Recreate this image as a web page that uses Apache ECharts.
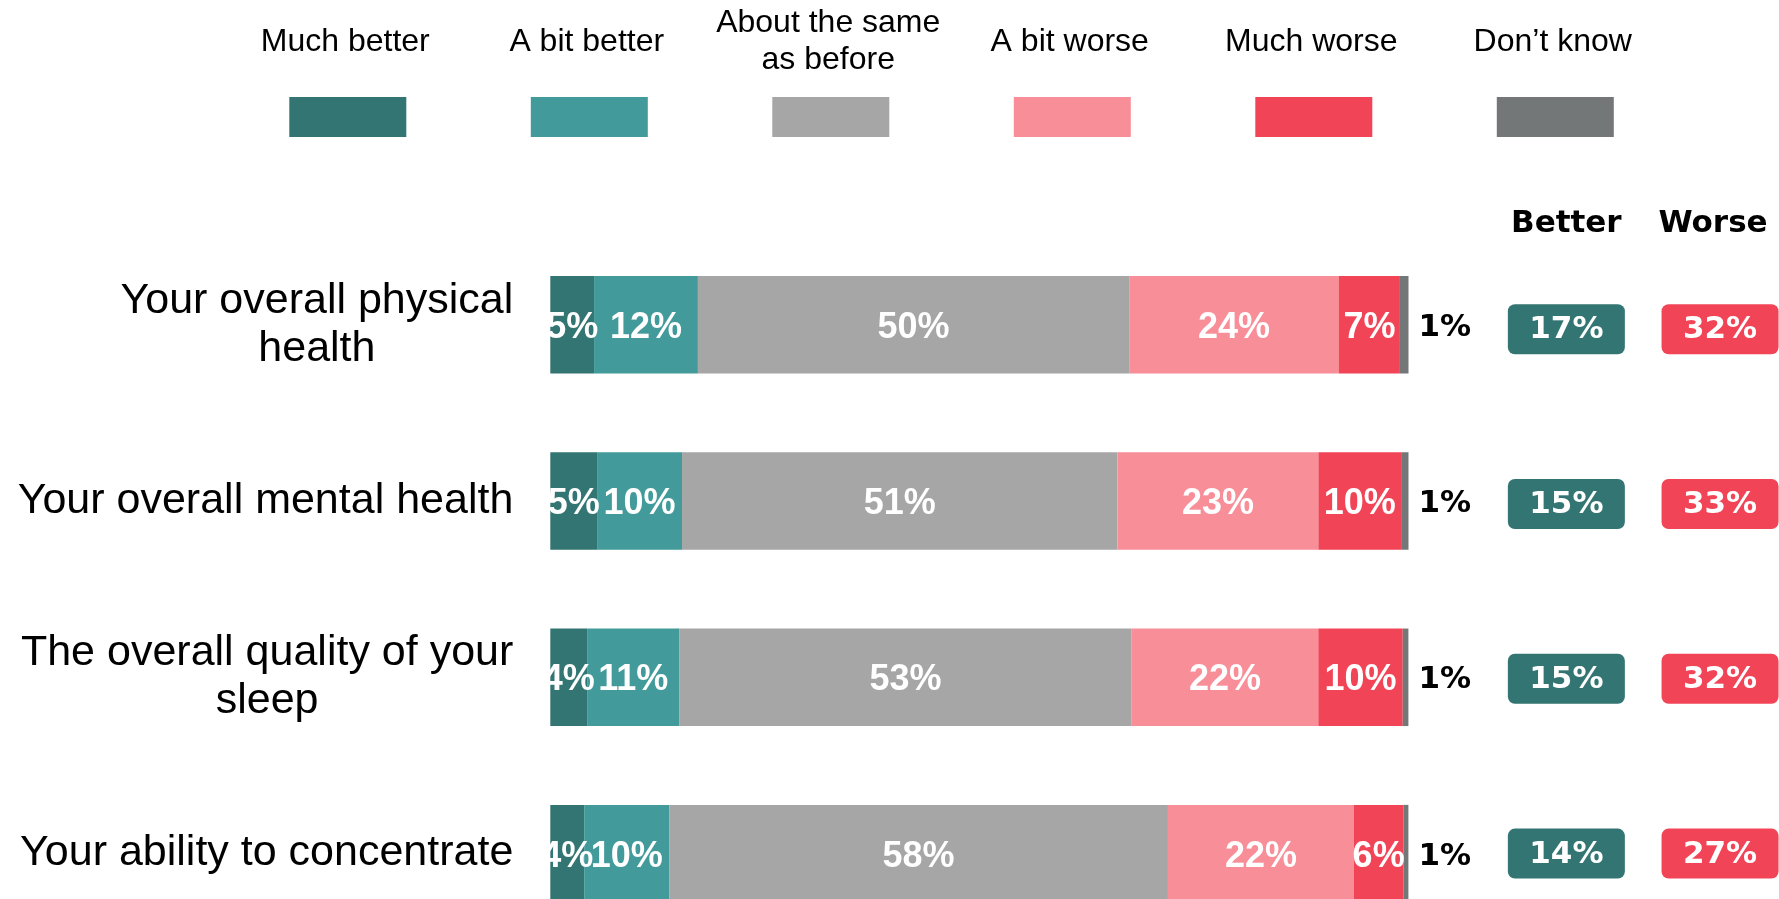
<!DOCTYPE html>
<html><head><meta charset="utf-8">
<script src="https://cdn.jsdelivr.net/npm/echarts@6/dist/echarts.min.js"></script>
<style>html,body{margin:0;padding:0;background:#fff}#c{width:1779px;height:899px}</style>
</head><body><div id="c"></div>
<script>
// ---- data ----
const categories = ['Your overall physical\nhealth', 'Your overall mental health', 'The overall quality of your\nsleep', 'Your ability to concentrate'];
const seriesNames = ['Much better', 'A bit better', 'About the same as before', 'A bit worse', 'Much worse', 'Don’t know'];
const legendLabels = ['Much better', 'A bit better', 'About the same\nas before', 'A bit worse', 'Much worse', 'Don’t know'];
const muchBetter = [5.1, 5.45, 4.29, 3.95];
const bitBetter  = [12.1, 9.9, 10.77, 9.9];
const aboutSame  = [50.25, 50.74, 52.68, 58.12];
const bitWorse   = [24.45, 23.41, 21.75, 21.67];
const muchWorse  = [7.1, 9.64, 9.84, 5.76];
const dontKnow   = [1.0, 0.86, 0.66, 0.59];
const summaryColumns = ['Better', 'Worse'];
const betterTotals = [17, 15, 15, 14];
const worseTotals  = [32, 33, 32, 27];

// ---- styles ----
const colors = ['#327572', '#429a9a', '#a6a6a6', '#f78e98', '#f24457', '#747778'];
const ARIAL = 'Liberation Sans, Arial, sans-serif';
const HEAVY = 'DejaVu Sans, sans-serif';
const valueSets = [muchBetter, bitBetter, aboutSame, bitWorse, muchWorse, dontKnow];

const barSeries = seriesNames.map((name, i) => {
  const last = i === seriesNames.length - 1;
  return {
    name, type: 'bar', stack: 'total', xAxisIndex: 0, yAxisIndex: 0,
    barWidth: 97.5, data: valueSets[i],
    itemStyle: { color: colors[i] },
    label: last ? {
      show: true, position: 'right', distance: 10, offset: [0, 3],
      formatter: p => Math.round(p.value) + '%',
      color: '#000', fontFamily: HEAVY, fontWeight: 'bold', fontSize: 31
    } : {
      show: true, position: 'inside', offset: [0, 3],
      formatter: p => Math.round(p.value) + '%',
      color: '#fff', fontFamily: ARIAL, fontWeight: 'bold', fontSize: 36
    }
  };
});

const pillPath = 'path://M7,0H110A7,7,0,0,1,117,7V43A7,7,0,0,1,110,50H7A7,7,0,0,1,0,43V7A7,7,0,0,1,7,0Z';
const pillSeries = [betterTotals, worseTotals].map((vals, k) => ({
  name: summaryColumns[k], type: 'scatter', xAxisIndex: 1, yAxisIndex: 1,
  symbol: pillPath, symbolSize: [117, 50],
  itemStyle: { color: k === 0 ? colors[0] : colors[4], opacity: 1 },
  data: vals.map((v, j) => [summaryColumns[k], categories[j], v]),
  label: {
    show: true, position: 'inside', offset: [0, 1], formatter: p => p.value[2] + '%',
    color: '#fff', fontFamily: HEAVY, fontWeight: 'bold', fontSize: 31
  },
  emphasis: { disabled: true }
}));

const option = {
  backgroundColor: '#fff',
  animation: false,
  legend: [
    {
      data: seriesNames, left: 289.3, top: 97, padding: 0,
      icon: 'rect', itemWidth: 117, itemHeight: 40, itemGap: 124.5,
      formatter: () => '', selectedMode: false,
      textStyle: { fontSize: 1 }
    },
    {
      data: seriesNames, left: 222, top: 5, padding: 0,
      icon: 'none', itemWidth: 0, itemHeight: 10, itemGap: 0,
      selectedMode: false,
      formatter: name => legendLabels[seriesNames.indexOf(name)].split('\n').map(l => '{c|' + l + '}').join('\n'),
      textStyle: {
        width: 236.5, backgroundColor: 'rgba(0,0,0,0)',
        fontSize: 32, lineHeight: 37, fontFamily: ARIAL, color: '#000',
        rich: { c: { align: 'center', fontSize: 32, lineHeight: 37, fontFamily: ARIAL, color: '#000' } }
      }
    }
  ],
  grid: [
    { left: 550.3, top: 236.5, width: 858.2, height: 705.3, outerBoundsMode: 'none', containLabel: false },
    { left: 1489.5, top: 241.8, width: 307.4, height: 699.2, outerBoundsMode: 'none', containLabel: false }
  ],
  xAxis: [
    { type: 'value', gridIndex: 0, min: 0, max: 100, show: false },
    {
      type: 'category', gridIndex: 1, position: 'top',
      data: [{ value: summaryColumns[0] }, { value: summaryColumns[1], textStyle: { padding: [0, 14, 0, 0] } }],
      axisLine: { show: false }, axisTick: { show: false }, splitLine: { show: false },
      axisLabel: { margin: 2, fontFamily: HEAVY, fontWeight: 'bold', fontSize: 31, color: '#000' }
    }
  ],
  yAxis: [
    {
      type: 'category', gridIndex: 0, data: categories, inverse: true,
      axisLine: { show: false }, axisTick: { show: false }, splitLine: { show: false },
      axisLabel: {
        margin: 37, color: '#000', fontFamily: ARIAL, fontSize: 43, lineHeight: 48,
        formatter: v => v.split('\n').map(l => '{c|' + l + '}').join('\n'),
        rich: { c: { align: 'center', fontFamily: ARIAL, fontSize: 43, lineHeight: 48, color: '#000' } }
      }
    },
    { type: 'category', gridIndex: 1, data: categories, inverse: true, show: false }
  ],
  series: barSeries.concat(pillSeries)
};

const chart = echarts.init(document.getElementById('c'), null, { renderer: 'canvas' });
chart.setOption(option);
</script>
</body></html>
